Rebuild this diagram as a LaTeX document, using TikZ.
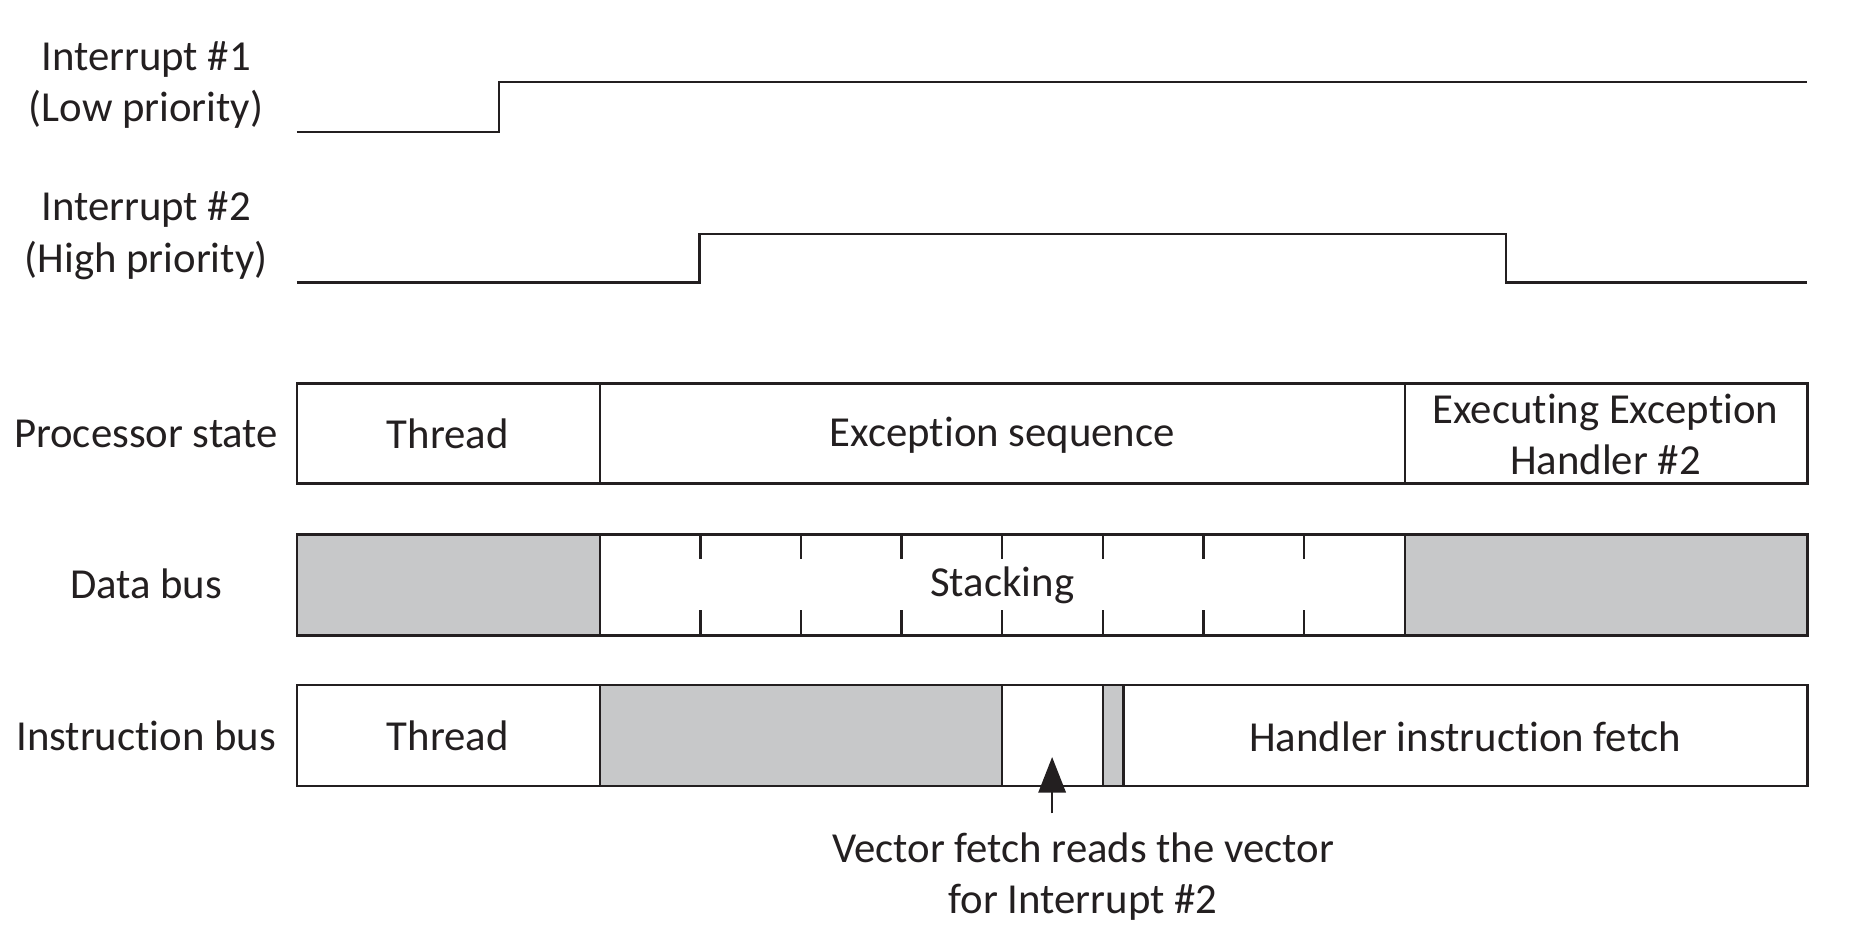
\documentclass[tikz,border=0pt]{standalone}
\usepackage{fontspec}
\setmainfont[Ligatures=NoCommon]{Carlito}
\usetikzlibrary{arrows.meta}
\definecolor{ink}{HTML}{231F20}
\definecolor{busgray}{HTML}{C7C8C9}
\begin{document}
\begin{tikzpicture}[x=0.5pt,y=-0.5pt,
  every node/.style={font=\fontsize{18}{21.5}\selectfont, text=ink, inner sep=0pt, align=center},
  wave/.style={draw=ink, line width=1pt, line join=miter},
  lane/.style={draw=ink, line width=1pt},
  grayfill/.style={fill=busgray},
  tick/.style={draw=ink, line width=1pt},
  pointer/.style={draw=ink, line width=1pt, -{Triangle[length=15pt,width=11.5pt]}}]
\useasboundingbox (0,0) rectangle (1568,794.1);
% left labels
\node (l1) at (123,71.5) {Interrupt \#1\\(Low priority)};
\node (l2) at (123,198.5) {Interrupt \#2\\(High priority)};
\node (lp) at (123,365) {Processor state};
\node (ld) at (123,492) {Data bus};
\node (li) at (123,620) {Instruction bus};
% waveforms
\draw[wave] (250,111) -- (420,111) -- (420,69) -- (1522,69);
\draw[wave] (250,238) -- (589,238) -- (589,197) -- (1268,197) -- (1268,238) -- (1522,238);
% processor state
\draw[lane] (250,323) rectangle (1522,407);
\draw[lane] (505,323) -- (505,407);
\draw[lane] (1183,323) -- (1183,407);
\node (pt) at (377,365) {Thread};
\node (pe) at (844,366.5) {Exception sequence};
\node (ph) at (1352,366) {Executing Exception\\Handler \#2};
% data bus
\fill[grayfill] (250,450) rectangle (505,535);
\fill[grayfill] (1183,450) rectangle (1522,535);
\draw[lane] (250,450) rectangle (1522,535);
\draw[lane] (505,450) -- (505,535);
\draw[lane] (1183,450) -- (1183,535);
\foreach \i in {1,...,7} {
  \draw[tick] ({505+\i*84.75},450) -- ({505+\i*84.75},471);
  \draw[tick] ({505+\i*84.75},535) -- ({505+\i*84.75},514);
}
\node (ds) at (844,492.5) {Stacking};
% instruction bus
\fill[grayfill] (505,577) rectangle (844,662);
\fill[grayfill] (929,577) rectangle (946,662);
\draw[lane] (250,577) rectangle (1522,662);
\foreach \xx in {505,844,929,946} \draw[lane] (\xx,577) -- (\xx,662);
\node (it) at (377,620) {Thread};
\node (ih) at (1234,620.5) {Handler instruction fetch};
% vector fetch annotation
\coordinate (vtip) at (886,637.5);
\coordinate (vtail) at (886,685);
\draw[pointer] (vtail) -- (vtip);
\node (vn) at (912,738) {Vector fetch reads the vector\\for Interrupt \#2};
\end{tikzpicture}
\end{document}
